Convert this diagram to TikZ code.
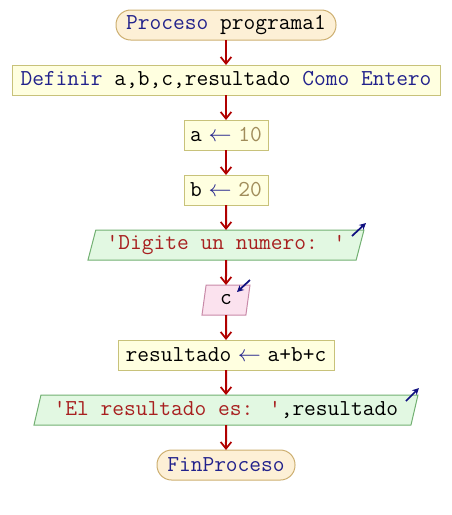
\documentclass[tikz,border=0pt]{standalone}
\usepackage{fontspec}
\usetikzlibrary{positioning,shapes.geometric,arrows.meta}

\definecolor{termfill}{HTML}{FDF0D6}
\definecolor{termline}{HTML}{CDAF70}
\definecolor{procfill}{HTML}{FFFFE0}
\definecolor{procline}{HTML}{C8C27A}
\definecolor{outfill}{HTML}{E2F8E2}
\definecolor{outline}{HTML}{72B072}
\definecolor{infill}{HTML}{FBE2EE}
\definecolor{inline}{HTML}{C88AA8}
\definecolor{kwblue}{HTML}{22228C}
\definecolor{numcol}{HTML}{A08C5A}
\definecolor{strcol}{HTML}{A82020}
\definecolor{flowred}{HTML}{B00000}
\definecolor{ioblue}{HTML}{101080}

\newcommand{\kw}[1]{\textcolor{kwblue}{#1}}
\newcommand{\str}[1]{\textcolor{strcol}{#1}}
\newcommand{\num}[1]{\textcolor{numcol}{#1}}
\newcommand{\asig}{\hspace{5pt}\textcolor{kwblue}{$\leftarrow$}\hspace{5pt}}

\tikzset{
  base/.style={font=\ttfamily\fontsize{17.1pt}{19pt}\selectfont, minimum height=22.5pt, inner ysep=0pt, inner xsep=3pt, outer sep=0pt, line width=0.75pt},
  termbox/.style={base, draw=termline, fill=termfill, rounded corners=11pt},
  procbox/.style={base, draw=procline, fill=procfill},
  outbox/.style={base, trapezium, trapezium left angle=68, trapezium right angle=112, trapezium stretches body, draw=outline, fill=outfill},
  inbox/.style={base, trapezium, trapezium left angle=68, trapezium right angle=112, trapezium stretches body, draw=inline, fill=infill},
  flow/.style={-{Straight Barb[length=5pt,width=8pt,line width=1.3pt]}, line width=1.5pt, flowred},
  ioarrow/.style={-{Stealth[length=5pt,width=5pt]}, line width=1.3pt, ioblue}
}

\begin{document}
\begin{tikzpicture}[x=0.75pt,y=0.75pt, node distance=18.75pt]
  \useasboundingbox (0,0) rectangle (452,-515);

  \node[termbox, minimum width=165pt] (start) at (226,-25) {\kw{Proceso} programa1};
  \node[procbox, minimum width=321pt, below=of start] (def) {\kw{Definir} a,b,c,resultado \kw{Como Entero}};
  \node[procbox, minimum width=63pt, below=of def] (seta) {a\asig\num{10}};
  \node[procbox, minimum width=63pt, below=of seta] (setb) {b\asig\num{20}};
  \node[outbox, minimum width=207pt, below=of setb] (ask) {\str{'Digite un numero: '}};
  \node[inbox, minimum width=36pt, below=of ask] (readc) {c};
  \node[procbox, minimum width=162pt, below=of readc] (sum) {resultado\asig a+b+c};
  \node[outbox, minimum width=288pt, below=of sum] (show) {\str{'El resultado es: '},resultado};
  \node[termbox, minimum width=103.5pt, below=of show] (stop) {\kw{FinProceso}};

  % conectores
  \draw[flow] (start) -- (def);
  \draw[flow] (def) -- (seta);
  \draw[flow] (seta) -- (setb);
  \draw[flow] (setb) -- (ask);
  \draw[flow] (ask) -- (readc);
  \draw[flow] (readc) -- (sum);
  \draw[flow] (sum) -- (show);
  \draw[flow] (show) -- (stop);

  % flechas de entrada / salida
  \draw[ioarrow] ([shift={(-12,-6)}]ask.top right corner) -- ++(14,13);
  \draw[ioarrow] ([shift={(0,5)}]readc.top right corner) -- ++(-13,-12);
  \draw[ioarrow] ([shift={(-12,-6)}]show.top right corner) -- ++(13,13);
\end{tikzpicture}
\end{document}
